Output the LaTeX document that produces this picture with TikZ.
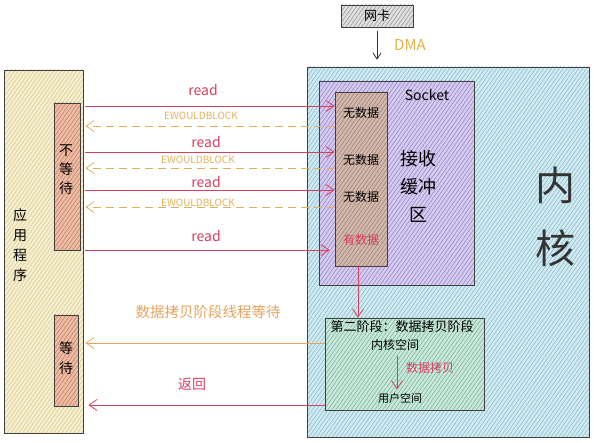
\documentclass[tikz,border=0pt]{standalone}
\usepackage{fontspec}
\setmainfont{Noto Sans CJK SC}
\usetikzlibrary{arrows.meta,patterns.meta}

\definecolor{appfill}{HTML}{F6F0D2}
\definecolor{appline}{HTML}{DCCB8C}
\definecolor{waitfill}{HTML}{EEBDA6}
\definecolor{waitline}{HTML}{C47F64}
\definecolor{kernfill}{HTML}{D2EBF2}
\definecolor{kernline}{HTML}{8BBBCB}
\definecolor{sockfill}{HTML}{D6CCEF}
\definecolor{sockline}{HTML}{9787CC}
\definecolor{buffill}{HTML}{D3B8AC}
\definecolor{bufline}{HTML}{9E837A}
\definecolor{copyfill}{HTML}{C9E8DB}
\definecolor{copyline}{HTML}{7DB59F}
\definecolor{nicfill}{HTML}{E0E0E0}
\definecolor{nicline}{HTML}{9A9A9A}
\definecolor{readred}{HTML}{D6405E}
\definecolor{blockorange}{HTML}{E3B05A}
\definecolor{waitorange}{HTML}{E8A25C}
\definecolor{dmayellow}{HTML}{E2B347}

\tikzset{
  hatch/.style 2 args={preaction={fill=#1},pattern={Lines[angle=55,distance=3.2pt,line width=.6pt]},pattern color=#2},
  box/.style={draw=black!75,line width=.8pt,inner sep=0pt},
  tip/.style={-{Straight Barb[length=8pt,width=11pt]}},
  readarr/.style={tip,draw=readred,line width=.8pt},
  blockarr/.style={tip,draw=blockorange,line width=.8pt,dash pattern=on 8pt off 5pt},
  fs/.style={font=\fontsize{#1}{#1}\selectfont},
}

\begin{document}
\begin{tikzpicture}[x=1pt,y=-1pt]
    \useasboundingbox (0,0) rectangle (594,443);

    % kernel
    \node[box,hatch={kernfill}{kernline},minimum width=282pt,minimum height=370pt] (kernel) at (448,252) {};
    \node[align=center,text=black!80,font=\fontsize{40}{63}\selectfont] (kerntxt) at (555,217) {内\\核};

    % socket
    \node[box,hatch={sockfill}{sockline},minimum width=155pt,minimum height=204pt] (sock) at (396.5,183) {};
    \node[fs=14] (socktxt) at (427,95) {Socket};
    \node[align=center,font=\fontsize{18}{28}\selectfont] (rcvtxt) at (418,186) {接收\\缓冲\\区};

    % receive buffer
    \node[box,hatch={buffill}{bufline},minimum width=52pt,minimum height=174pt] (buf) at (361,179) {};
    \node[fs=12] (nd1) at (361,113) {无数据};
    \node[fs=12] (nd2) at (361,160) {无数据};
    \node[fs=12] (nd3) at (361,197) {无数据};
    \node[fs=12,text=readred] (hd) at (361,240) {有数据};

    % network card and DMA
    \node[box,hatch={nicfill}{nicline},minimum width=72pt,minimum height=22pt,fs=13] (nic) at (377,16) {网卡};
    \draw[-{Straight Barb[length=6pt,width=8pt]},black!80,line width=.8pt] ([yshift=-4pt]nic.south) to ([yshift=7pt]kernel.north -| nic.south);
    \node[fs=15,text=dmayellow] (dma) at (410,45) {DMA};

    % second stage: data copy
    \node[box,hatch={copyfill}{copyline},minimum width=159pt,minimum height=92pt] (copy) at (404.5,364) {};
    \node[fs=13] (stage) at (402,327) {第二阶段：数据拷贝阶段};
    \node[fs=12] (ksp) at (395,345) {内核空间};
    \node[fs=11] (usp) at (400,398) {用户空间};
    \draw[readarr,shorten <=2pt] (ksp.south -| 397,0) to (usp.north -| 397,0);
    \node[fs=12,text=readred] (cpytxt) at (430,368) {数据拷贝};
    \draw[readarr] (buf.south -| 358,0) to (copy.north -| 358,0);

    %%%%%%%%%%%%%%%%%%%%%%%%%%%%%%%%%%%%%%%%%%%%%%%%%%%%%%

    % application
    \node[box,hatch={appfill}{appline},minimum width=79pt,minimum height=363pt] (app) at (43.5,251.5) {};
    \node[align=center,font=\fontsize{14}{20}\selectfont] (apptxt) at (20,245) {应\\用\\程\\序};

    % no wait
    \node[box,hatch={waitfill}{waitline},minimum width=26pt,minimum height=147pt] (nowait) at (67,176.5) {};
    \node[align=center,font=\fontsize{14}{19}\selectfont] (nowaittxt) at (66,170) {不\\等\\待};

    % wait
    \node[box,hatch={waitfill}{waitline},minimum width=24pt,minimum height=91pt] (wait) at (66,360.5) {};
    \node[align=center,font=\fontsize{14}{20}\selectfont] (waittxt) at (66,358) {等\\待};

    %%%%%%%%%%%%%%%%%%%%%%%%%%%%%%%%%%%%%%%%%%%%%%%%%%%%%%

    % read calls
    \coordinate (r1) at (0,106);
    \coordinate (r2) at (0,152);
    \coordinate (r3) at (0,190);
    \coordinate (r4) at (0,250);
    \draw[readarr] ([xshift=2pt]app.east |- r1) to (buf.west |- r1);
    \draw[readarr] ([xshift=2pt]app.east |- r2) to (buf.west |- r2);
    \draw[readarr] ([xshift=2pt]app.east |- r3) to (buf.west |- r3);
    \draw[readarr] ([xshift=2pt]app.east |- r4) to ([xshift=-5pt]buf.west |- r4);
    \node[fs=14,text=readred] (rd1) at (203,90) {read};
    \node[fs=14,text=readred] (rd2) at (206,142) {read};
    \node[fs=14,text=readred] (rd3) at (206,182) {read};
    \node[fs=14,text=readred] (rd4) at (206,236) {read};

    % EWOULDBLOCK returns
    \coordinate (e1) at (0,126);
    \coordinate (e2) at (0,168);
    \coordinate (e3) at (0,207);
    \draw[blockarr] (buf.west |- e1) to ([xshift=2pt]app.east |- e1);
    \draw[blockarr] (buf.west |- e2) to ([xshift=2pt]app.east |- e2);
    \draw[blockarr] (buf.west |- e3) to ([xshift=2pt]app.east |- e3);
    \node[fs=10,text=blockorange] (eb1) at (201,116) {EWOULDBLOCK};
    \node[fs=10,text=blockorange] (eb2) at (198,160) {EWOULDBLOCK};
    \node[fs=10,text=blockorange] (eb3) at (198,203) {EWOULDBLOCK};

    % waiting during copy
    \coordinate (w1) at (0,343);
    \draw[tip,draw=waitorange,line width=.8pt] (copy.west |- w1) to ([xshift=2pt]app.east |- w1);
    \node[fs=14.5,text=waitorange] (waitlbl) at (208,312) {数据拷贝阶段线程等待};

    % return
    \coordinate (w2) at (0,405);
    \draw[readarr] (copy.west |- w2) to ([xshift=5pt]app.east |- w2);
    \node[fs=14,text=readred] (retlbl) at (192,384) {返回};

\end{tikzpicture}
\end{document}
